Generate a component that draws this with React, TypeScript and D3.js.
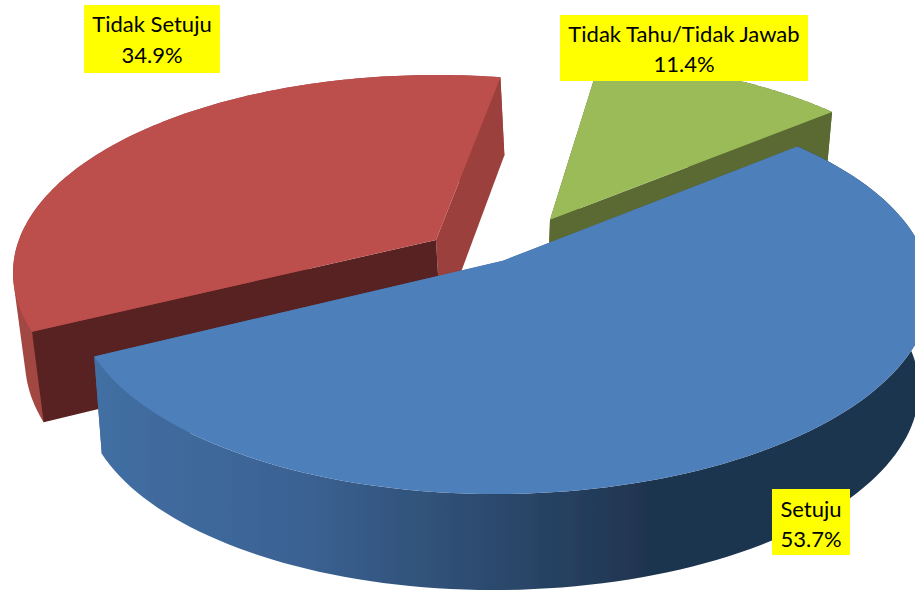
import React from "react";
import * as d3 from "d3";

const categories = ["Setuju", "Tidak Setuju", "Tidak Tahu/Tidak Jawab"];
const values = [53.7, 34.9, 11.4];
const topColors = ["#4e7fbb", "#bc4f4c", "#9bbb59"];
const cutColors = ["#3f6a9b", "#582321", "#5a6a32"];
const sideColors = ["#3f6a9b", "#9b3f3c", "#5a6a32"];
const wallColors = ["url(#blueWall)", "#a34643", "#5a6a32"];
const wallStops = [
  { x: 94, c: "#426fa3" },
  { x: 300, c: "#3b6293" },
  { x: 490, c: "#2c4a6e" },
  { x: 650, c: "#1f344f" },
  { x: 915, c: "#1f344f" },
];

// upper and lower ellipse of each exploded slice
const upper = [
  { cx: 503, cy: 294, rx: 428, ry: 200, tilt: -0.008 },
  { cx: 436, cy: 273, rx: 423, ry: 198, tilt: 0 },
  { cx: 550, cy: 252, rx: 410, ry: 193, tilt: 0 },
];
const lower = [
  { cx: 501, cy: 392, rx: 418, ry: 198, tilt: -0.008 },
  { cx: 441, cy: 360.7, rx: 416, ry: 208, tilt: 0 },
  { cx: 547, cy: 341, rx: 402, ry: 186, tilt: 0 },
];
// small per-slice correction of the drawn edges (degrees), for the picture's perspective
const edgeNudge = [
  [0, 0],
  [0, 0.9],
  [-1.2, 0],
];
// the blue slice's cut faces sit behind its wall; the others' sit in front
const cutsOverWall = [false, true, true];
// the red slice's outer wall has a silhouette tangent to both rims
const wallHull = [false, true, false];
const labelBoxes = [
  { x: 772, y: 489, w: 78, h: 66, b1: 517, b2: 547 },
  { x: 84, y: 5, w: 136, h: 68, b1: 32, b2: 63 },
  { x: 560, y: 15, w: 248, h: 66, b1: 42, b2: 72 },
];
const START_DEG = 50.5;
const K = 1 / 6; // perspective shift of the pie centre inside its rim

type Ell = { cx: number; cy: number; rx: number; ry: number; tilt: number };

function project(e: Ell, a: number, r = 1): [number, number] {
  const sx = r * Math.sin(a);
  const sy = r * Math.cos(a);
  const den = 1 + K * sy;
  const px = (sx * Math.sqrt(1 - K * K)) / den;
  const py = (sy + K) / den;
  const x = e.rx * px;
  return [e.cx + x, e.cy - e.ry * py + e.tilt * x];
}

export default function App() {
  const toRad = Math.PI / 180;
  const arcs = d3
    .pie<number>()
    .sort(null)
    .startAngle(START_DEG * toRad)
    .endAngle(START_DEG * toRad + 2 * Math.PI)(values);
  const line = d3.line();
  const rim = (e: Ell, a0: number, a1: number) =>
    d3.range(0, 121).map((i) => project(e, a0 + ((a1 - a0) * i) / 120));

  const order = [1, 2, 0];
  return (
    <svg
      width={915}
      height={590}
      style={{ position: "fixed", left: 0, top: 0, display: "block" }}
    >
      <defs>
        <linearGradient id="blueWall" gradientUnits="userSpaceOnUse" x1={94} x2={915} y1={0} y2={0}>
          {wallStops.map((s) => (
            <stop key={s.x} offset={(s.x - 94) / (915 - 94)} stopColor={s.c} />
          ))}
        </linearGradient>
        <filter id="soft" x="-5%" y="-5%" width="110%" height="110%">
          <feGaussianBlur stdDeviation={0.6} />
        </filter>
      </defs>
      <rect width={915} height={590} fill="#fff" />
      <g filter="url(#soft)">
        {order.map((i) => {
          const a0 = arcs[i].startAngle + edgeNudge[i][0] * toRad;
          const a1 = arcs[i].endAngle + edgeNudge[i][1] * toRad;
          const u = upper[i];
          const l = lower[i];
          const uRim = rim(u, a0, a1);
          const lRim = rim(l, a0, a1);
          const uApex = project(u, 0, 0);
          const lApex = project(l, 0, 0);
          const wallPts = [...uRim, ...lRim.slice().reverse()];
          const wall = wallHull[i] ? d3.polygonHull(wallPts)! : wallPts;
          const cutStart = [uApex, uRim[0], lRim[0], lApex] as [number, number][];
          const cutEnd = [uApex, uRim[120], lRim[120], lApex] as [number, number][];
          const top = [uApex, ...uRim];
          const wallEl = <path d={line(wall) + "Z"} fill={wallColors[i]} />;
          return (
            <g key={categories[i]}>
              {!cutsOverWall[i] && wallEl && null}
              {cutsOverWall[i] && wallEl}
              <path d={line(cutEnd) + "Z"} fill={sideColors[i]} />
              <path d={line(cutStart) + "Z"} fill={cutColors[i]} />
              {!cutsOverWall[i] && wallEl}
              <path d={line(top) + "Z"} fill={topColors[i]} />
            </g>
          );
        })}
      </g>
      {labelBoxes.map((b, i) => (
        <g key={categories[i]}>
          <rect x={b.x} y={b.y} width={b.w} height={b.h} fill="#ffff00" />
          <text
            x={b.x + b.w / 2}
            y={b.b1}
            textAnchor="middle"
            fontFamily="Lato"
            fontSize={22}
            fill="#000"
          >
            {categories[i]}
          </text>
          <text
            x={b.x + b.w / 2}
            y={b.b2}
            textAnchor="middle"
            fontFamily="Lato"
            fontSize={22}
            fill="#000"
          >
            {d3.format(".1f")(values[i])}%
          </text>
        </g>
      ))}
    </svg>
  );
}
